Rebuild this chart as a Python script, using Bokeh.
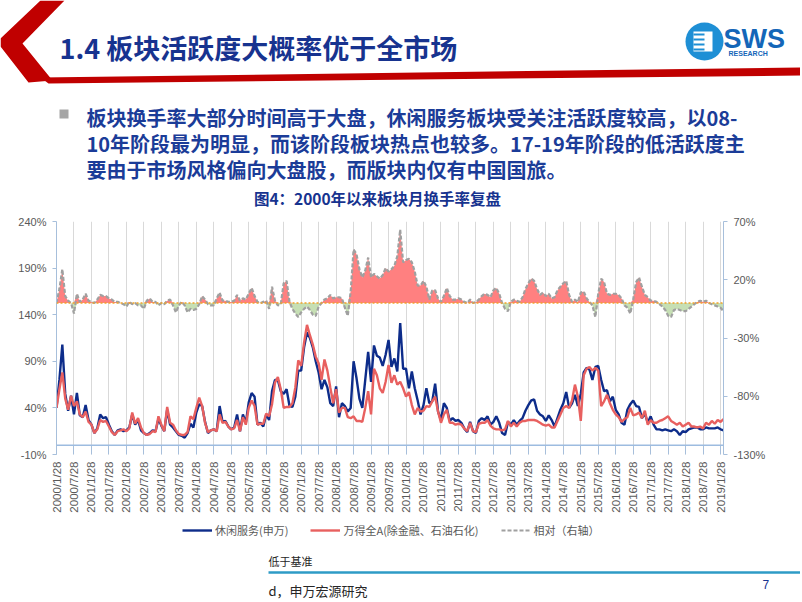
import math
from bokeh.plotting import figure
from bokeh.models import (Range1d, LinearAxis, FixedTicker, PrintfTickFormatter, Span,
                          BoxAnnotation, Legend, LegendItem, ColumnDataSource)
from bokeh.layouts import column
from bokeh.core.properties import value
from bokeh.embed import file_html
from bokeh.resources import INLINE

# ---------------- data (monthly, 2000/1 .. 2019/2) ----------------
x_labels = ["2000/1/28", "2000/7/28", "2001/1/28", "2001/7/28", "2002/1/28", "2002/7/28",
            "2003/1/28", "2003/7/28", "2004/1/28", "2004/7/28", "2005/1/28", "2005/7/28",
            "2006/1/28", "2006/7/28", "2007/1/28", "2007/7/28", "2008/1/28", "2008/7/28",
            "2009/1/28", "2009/7/28", "2010/1/28", "2010/7/28", "2011/1/28", "2011/7/28",
            "2012/1/28", "2012/7/28", "2013/1/28", "2013/7/28", "2014/1/28", "2014/7/28",
            "2015/1/28", "2015/7/28", "2016/1/28", "2016/7/28", "2017/1/28", "2017/7/28",
            "2018/1/28", "2018/7/28", "2019/1/28"]

leisure = [  # 休闲服务(申万), left axis, %
    40, 70, 108, 55, 37, 53, 33, 56, 32, 30, 43, 27,
    22, 13, 18, 33, 29, 30, 22, 15, 11, 16, 17, 15,
    16, 19, 33, 22, 27, 16, 13, 11, 13, 16, 15, 28,
    21, 15, 38, 22, 19, 15, 11, 10, 8, 13, 23, 19,
    35, 44, 42, 25, 13, 16, 17, 15, 42, 25, 26, 20,
    17, 19, 33, 15, 33, 24, 46, 56, 52, 22, 24, 20,
    33, 27, 58, 70, 70, 58, 55, 60, 42, 41, 52, 80,
    80, 105, 121, 115, 105, 90, 78, 60, 70, 62, 45, 42,
    63, 30, 45, 42, 36, 40, 90, 72, 50, 40, 70, 100,
    68, 107, 96, 94, 85, 97, 113, 84, 93, 79, 131, 82,
    82, 61, 79, 61, 48, 33, 43, 61, 45, 47, 66, 36,
    27, 45, 40, 26, 29, 26, 27, 24, 18, 14, 25, 15,
    13, 26, 29, 27, 31, 22, 25, 31, 24, 13, 11, 25,
    22, 27, 22, 26, 29, 37, 43, 48, 49, 37, 33, 31,
    26, 32, 27, 20, 29, 38, 45, 57, 40, 45, 54, 42,
    55, 78, 83, 81, 70, 84, 85, 70, 58, 59, 47, 52,
    38, 33, 24, 22, 38, 44, 48, 42, 41, 29, 34, 24,
    31, 22, 17, 17, 16, 17, 16, 15, 17, 15, 11, 15,
    14, 17, 18, 19, 19, 17, 17, 19, 18, 18, 18, 19,
    17, 16]

wind_a = [  # 万得全A(除金融、石油石化), left axis, %
    40, 60, 78, 50, 38, 53, 42, 47, 33, 30, 36, 25,
    22, 13, 17, 27, 25, 26, 20, 14, 11, 15, 16, 17,
    15, 18, 35, 23, 29, 19, 13, 11, 12, 15, 14, 31,
    22, 15, 41, 24, 22, 16, 12, 11, 11, 14, 31, 28,
    40, 51, 42, 24, 14, 16, 17, 15, 33, 24, 25, 20,
    17, 18, 27, 15, 30, 22, 40, 48, 42, 22, 23, 23,
    34, 31, 44, 67, 73, 60, 40, 41, 41, 45, 62, 91,
    85, 110, 129, 118, 108, 95, 88, 70, 92, 80, 62, 45,
    60, 35, 40, 40, 30, 29, 31, 26, 26, 25, 40, 58,
    33, 82, 75, 61, 56, 68, 86, 67, 75, 65, 68, 61,
    52, 57, 43, 33, 40, 36, 37, 42, 41, 47, 52, 36,
    24, 33, 38, 24, 24, 22, 23, 22, 18, 15, 24, 15,
    14, 23, 24, 24, 27, 21, 18, 17, 17, 16, 17, 26,
    20, 24, 20, 24, 26, 26, 27, 27, 27, 26, 24, 22,
    21, 22, 19, 19, 26, 33, 40, 42, 40, 48, 65, 52,
    26, 75, 82, 84, 80, 83, 80, 42, 47, 54, 45, 38,
    33, 30, 25, 28, 30, 40, 32, 33, 35, 29, 37, 22,
    27, 24, 24, 26, 27, 29, 31, 26, 24, 22, 24, 20,
    22, 24, 20, 20, 19, 20, 18, 24, 22, 26, 23, 27,
    25, 28]

relative = [  # 相对(右轴), %
    0, 12, 29, 6, 2, 0, -9, 8, 1, 3, 8, 2,
    1, 0, 3, 7, 6, 6, 4, 3, 1, 1, 0, -1,
    -3, 1, -1, 0, -2, -2, -5, 2, 4, 1, 1, -2,
    0, -1, 2, 3, -2, -8, -2, 1, -2, -8, -5, -6,
    -5, -1, 6, 3, -1, -2, -2, 4, 9, 2, 2, 1,
    1, 2, 7, 2, 4, 3, 8, 13, 6, 1, 0, 1,
    2, -5, 14, 2, -2, -1, 17, 19, 1, -5, -9, -12,
    -8, -5, -3, -6, -10, -11, -3, 0, 3, 4, 7, 4,
    5, 5, 4, -4, -11, 10, 46, 42, 29, 22, 28, 39,
    22, 25, 23, 21, 24, 30, 27, 29, 32, 40, 63, 35,
    37, 38, 35, 27, 15, 15, 19, 14, 3, 11, 11, 4,
    1, 6, 13, 6, 3, 3, 4, 3, 1, 0, 3, 0,
    1, 3, 6, 8, 7, 5, 11, 13, 8, 0, -5, -7,
    1, 3, 2, 1, 5, 12, 17, 21, 19, 12, 7, 9,
    6, 8, 4, 5, 11, 14, 17, 19, 7, 1, 3, 1,
    9, 10, 4, 1, -2, -12, 8, 21, 18, 8, 7, 8,
    8, 7, 4, -2, -4, -9, 3, 18, 22, 14, 7, 5,
    2, 2, 1, -1, -3, -6, -11, -12, -6, -5, -6, -7,
    -7, -5, -3, -1, 1, 2, 1, 2, 0, -1, -2, -3,
    -4, -7]

left_ticks = [-10, 40, 90, 140, 190, 240]
right_ticks = [-130, -80, -30, 20, 70]

series_names = ["休闲服务(申万)", "万得全A(除金融、石油石化)", "相对（右轴）"]
title_text = "1.4 板块活跃度大概率优于全市场"
bullet_lines = ["板块换手率大部分时间高于大盘，休闲服务板块受关注活跃度较高，以08-",
                "10年阶段最为明显，而该阶段板块热点也较多。17-19年阶段的低活跃度主",
                "要由于市场风格偏向大盘股，而版块内仅有中国国旅。"]
chart_title = "图4：2000年以来板块月换手率复盘"

# ---------------- styling ----------------
W = 800
CJK = "Noto Sans CJK SC"
LAT = "Liberation Sans"
NAVY = "#17338F"
TXT_BLUE = "#1B3C98"
GRAY = "#595959"
AXIS_BLUE = "#A7BFDB"
BLUE_LINE = dict(line_color="#0D2C8A", line_width=2.4)
RED_LINE = dict(line_color="#E8605F", line_width=2.4)
REL_LINE = dict(line_color="#A0A0A0", line_width=2.2, line_dash="4 2")


def deco(height, x0, x1, y_top, y_bottom, left=0):
    f = figure(width=W, height=height, x_range=Range1d(x0, x1), y_range=Range1d(y_bottom, y_top),
               output_backend="svg", toolbar_location=None, min_border=0, min_border_left=left,
               x_axis_type=None, y_axis_type=None, outline_line_color=None)
    f.frame_align = False
    f.background_fill_color = "white"
    f.border_fill_color = "white"
    return f


# ---------------- header (page y 0..92) ----------------
hdr = deco(92, 0, 800, 0, 92)
hdr.patch([40, 64, 22, 52, 28, 0, 0], [0, 0, 43, 80, 82, 46, 38], fill_color="#C00000", line_color=None)
hdr.patch([40, 800, 800, 48], [77, 67, 75, 83], fill_color="#C00000", line_color=None)
hdr.text(x=[59], y=[47], text=[title_text], text_font=value(CJK), text_font_size="27px",
         text_font_style="bold", text_color=NAVY, text_baseline="middle", text_align="left")
hdr.ellipse(x=[704], y=[41], width=38, height=38, fill_color="#1E8FD5", line_color=None)
hdr.quad(left=[693], right=[712], top=[31], bottom=[51], fill_color="white", line_color=None)
hdr.quad(left=[693] * 4, right=[704] * 4, top=[33, 38, 43, 48], bottom=[35, 40, 45, 50],
         fill_color="#1E8FD5", line_color=None)
hdr.text(x=[723], y=[38], text=["SWS"], text_font=value(LAT), text_font_size="27px",
         text_font_style="bold", text_color="#1466B8", text_baseline="middle", text_align="left")
hdr.text(x=[728], y=[53], text=["RESEARCH"], text_font=value(LAT), text_font_size="7px",
         text_font_style="bold", text_color="#1466B8", text_baseline="middle", text_align="left")

# ---------------- bullet text (page y 92..208) ----------------
bul = deco(116, 0, 800, 92, 208)
bul.quad(left=[59], right=[68], top=[109], bottom=[118], fill_color="#A6A6A6", line_color=None)
bul.text(x=[86, 86, 86], y=[117, 143, 169], text=bullet_lines, text_font=value(CJK),
         text_font_size="20px", text_font_style="bold", text_color=TXT_BLUE,
         text_baseline="middle", text_align="left")
bul.text(x=[377], y=[197], text=[chart_title], text_font=value(CJK), text_font_size="15.5px",
         text_font_style="bold", text_color=NAVY, text_baseline="middle", text_align="center")

# ---------------- chart (page y 208..515) ----------------
months = list(range(len(leisure)))
src = ColumnDataSource(dict(x=months, blue=leisure, red=wind_a, rel=relative,
                            zero=[0] * len(relative),
                            pos=[max(v, 0) for v in relative],
                            neg=[min(v, 0) for v in relative]))

p = figure(width=W, height=307, x_range=Range1d(0, len(months) - 1), y_range=Range1d(-10, 240),
           output_backend="svg", toolbar_location=None, min_border_left=56, min_border_right=77,
           min_border_top=13, min_border_bottom=60, outline_line_color=None)
p.frame_align = False
p.background_fill_color = "white"
p.border_fill_color = "white"
p.extra_y_ranges = {"right": Range1d(-130, 70)}

tick_pos = list(range(0, len(months), 6))
p.xaxis.ticker = FixedTicker(ticks=tick_pos)
p.xaxis.major_label_overrides = {t: lab for t, lab in zip(tick_pos, x_labels)}
p.xaxis.major_label_orientation = math.pi / 2
p.xaxis.axis_line_color = None
p.xaxis.major_tick_in = 9
p.xaxis.major_tick_out = 0
p.xaxis.major_tick_line_color = AXIS_BLUE
p.xaxis.minor_tick_line_color = None
p.xaxis.major_label_standoff = 7
p.xaxis.major_label_text_font = LAT
p.xaxis.major_label_text_font_size = "11.5px"
p.xaxis.major_label_text_color = GRAY

p.yaxis.ticker = FixedTicker(ticks=left_ticks)
p.yaxis.formatter = PrintfTickFormatter(format="%d%%")
p.yaxis.axis_line_color = AXIS_BLUE
p.yaxis.major_tick_line_color = AXIS_BLUE
p.yaxis.major_tick_in = 0
p.yaxis.major_tick_out = 4
p.yaxis.minor_tick_line_color = None
p.yaxis.major_label_standoff = 6
p.yaxis.major_label_text_font = LAT
p.yaxis.major_label_text_font_size = "11px"
p.yaxis.major_label_text_color = GRAY

ry = LinearAxis(y_range_name="right", ticker=FixedTicker(ticks=right_ticks),
                formatter=PrintfTickFormatter(format="%d%%"))
ry.axis_line_color = AXIS_BLUE
ry.major_tick_line_color = AXIS_BLUE
ry.major_tick_in = 0
ry.major_tick_out = 4
ry.minor_tick_line_color = None
ry.major_label_standoff = 6
ry.major_label_text_font = LAT
ry.major_label_text_font_size = "11px"
ry.major_label_text_color = GRAY
p.add_layout(ry, "right")

p.xgrid.grid_line_color = "#D9D9D9"
p.ygrid.visible = False

p.add_layout(BoxAnnotation(bottom=-10, top=0, fill_color="white", fill_alpha=1.0,
                           line_color=None, level="underlay"))

p.varea(x="x", y1="zero", y2="pos", source=src, fill_color="#FF8080", y_range_name="right")
p.varea(x="x", y1="zero", y2="neg", source=src, fill_color="#C6DFB4", y_range_name="right")
p.line(x="x", y="rel", source=src, y_range_name="right", **REL_LINE)
p.line(x="x", y="blue", source=src, **BLUE_LINE)
p.line(x="x", y="red", source=src, **RED_LINE)

p.add_layout(Span(location=0, dimension="width", y_range_name="right", line_color="#F2A32A",
                  line_width=1.5, line_dash="2 2"))
p.add_layout(Span(location=0, dimension="width", line_color="#9DBCE0", line_width=1.5))

# ---------------- legend + footer (page y 515..600) ----------------
ftr = deco(85, 0, 800, 515, 600)
# legend proxies: same styles as the chart series, parked outside the visible range
proxy = ColumnDataSource(dict(x=[-50, -40], y=[700, 700]))
lb = ftr.line(x="x", y="y", source=proxy, **BLUE_LINE)
lr = ftr.line(x="x", y="y", source=proxy, **RED_LINE)
lg = ftr.line(x="x", y="y", source=proxy, **REL_LINE)
legend = Legend(items=[LegendItem(label=series_names[0], renderers=[lb]),
                       LegendItem(label=series_names[1], renderers=[lr]),
                       LegendItem(label=series_names[2], renderers=[lg])],
                orientation="horizontal", location=(182, 60), glyph_width=30,
                label_standoff=3, spacing=22, padding=2, margin=0,
                border_line_color=None, background_fill_alpha=0,
                label_text_font=CJK, label_text_font_size="11px", label_text_color=GRAY)
ftr.add_layout(legend, "center")

ftr.segment(x0=[268], y0=[572], x1=[800], y1=[572], line_color="#2E9BC6", line_width=2.5)
ftr.text(x=[268], y=[560], text=["低于基准"], text_font=value(CJK), text_font_size="11px",
         text_color="#262626", text_baseline="middle", text_align="left")
ftr.text(x=[268], y=[590], text=["d，申万宏源研究"], text_font=value(CJK), text_font_size="13px",
         text_color="#262626", text_baseline="middle", text_align="left")
ftr.text(x=[762], y=[584], text=["7"], text_font=value(LAT), text_font_size="12px",
         text_color=NAVY, text_baseline="middle", text_align="left")

layout = column(hdr, bul, p, ftr, spacing=0)
open("out.html", "w").write(file_html(layout, INLINE))
